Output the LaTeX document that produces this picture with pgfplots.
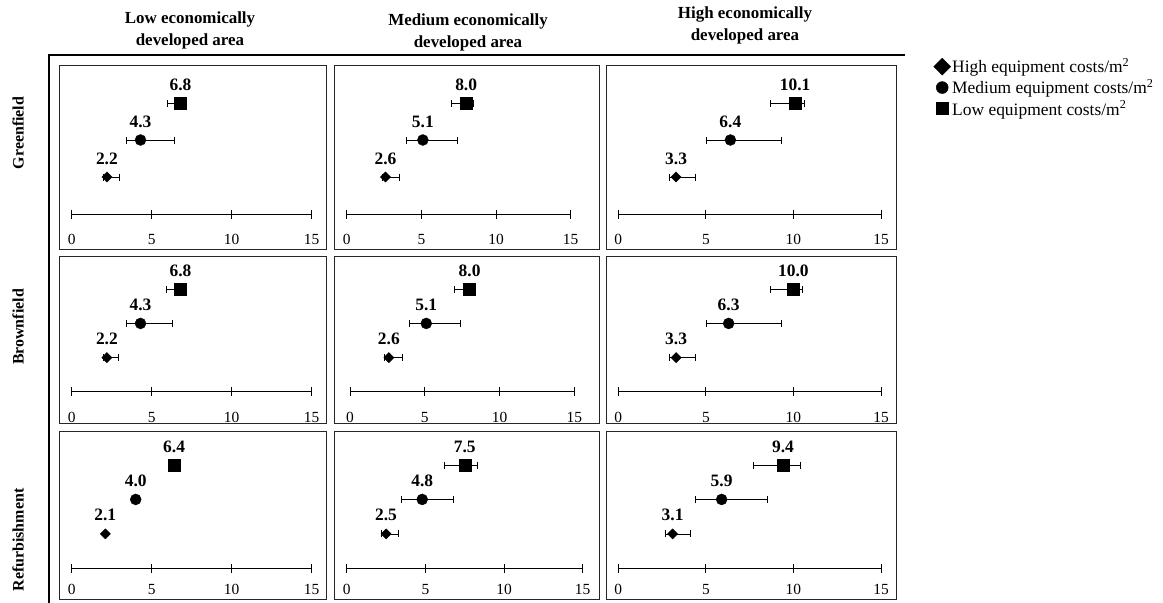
\documentclass[border=0pt]{standalone}
\usepackage{fontspec}
\setmainfont{Liberation Serif}
\usepackage{pgfplots}
\pgfplotsset{compat=1.18}

\newcommand{\fs}{\fontsize{15.5}{15.5}\selectfont}
\newcommand{\fl}{\fontsize{17.5}{17.5}\selectfont}
\newcommand{\fh}{\fontsize{16}{16}\selectfont}

\pgfplotsset{
  panel/.style={
    scale only axis, clip=false,
    anchor=origin,
    axis x line=bottom, axis y line=none,
    axis line style={-, black, line width=0.8bp},
    xmin=0, xmax=15, ymin=0, ymax=3,
    xtick={0,5,10,15}, xtick align=center,
    major tick length=9bp,
    every tick/.style={black, line width=0.8bp},
    /pgf/number format/assume math mode=true,
    xticklabel style={font=\fs, anchor=base, yshift=-26bp},
    ytick=\empty,
    error bars/x dir=both, error bars/x explicit,
    error bars/error mark=|,
    error bars/error bar style={line width=0.7bp, black},
    error bars/error mark options={mark size=3.5bp, line width=0.7bp, black},
    nodes near coords={\pgfmathprintnumber[fixed,fixed zerofill,precision=1]{\pgfplotspointmeta}},
    point meta=x,
    every node near coord/.style={font=\fl\bfseries, anchor=base, yshift=13bp, black},
  },
  dia/.style={only marks, mark=square*, mark size=3.6bp, black, mark options={fill=black, rotate=45}},
  cir/.style={only marks, mark=*, mark size=5.5bp, black, mark options={fill=black}},
  squ/.style={only marks, mark=square*, mark size=6bp, black, mark options={fill=black}},
}

% #1 x0, #2 y of axis line, #3 width, #4 height, #5 diamond, #6 circle, #7 square, #8 extra, #9 options
\newcommand{\panel}[9]{%
\begin{axis}[panel, at={(#1bp,-#2bp)}, width=#3bp, height=#4bp, #9]
\addplot[dia] coordinates {#5};
\addplot[cir] coordinates {#6};
\addplot[squ] coordinates {#7};
\draw[line width=0.8bp] (axis cs:0,0) ++(0,4.5bp) -- ++(0,-9bp);
\draw[line width=0.8bp] (axis cs:5,0) ++(0,4.5bp) -- ++(0,-9bp);
\draw[line width=0.8bp] (axis cs:10,0) ++(0,4.5bp) -- ++(0,-9bp);
\draw[line width=0.8bp] (axis cs:15,0) ++(0,4.5bp) -- ++(0,-9bp);
#8
\end{axis}}

\begin{document}
\begin{tikzpicture}
\useasboundingbox (0,0) rectangle (1163bp,-603bp);

% frames
\begin{scope}[line width=0.8bp, draw=black!85]
\draw (59.5bp,-65bp) rectangle (326bp,-249bp);
\draw (334.5bp,-65bp) rectangle (599.5bp,-249bp);
\draw (606.5bp,-65bp) rectangle (896bp,-249bp);
\draw (59.5bp,-256bp) rectangle (326bp,-423bp);
\draw (334.5bp,-256bp) rectangle (599.5bp,-423bp);
\draw (606.5bp,-256bp) rectangle (896bp,-423bp);
\draw (59.5bp,-431.5bp) rectangle (326bp,-599bp);
\draw (334.5bp,-431.5bp) rectangle (599.5bp,-599bp);
\draw (606.5bp,-431.5bp) rectangle (896bp,-599bp);
\end{scope}

% thick L line
\draw[line width=2.5bp] (49bp,-603bp) -- (49bp,-55bp) -- (905bp,-55bp);

% column headers
\node[font=\fontsize{17}{22}\selectfont\bfseries, align=center, inner sep=0pt] at (190bp,-30bp) {Low economically\\developed area};
\node[font=\fontsize{17}{22}\selectfont\bfseries, align=center, inner sep=0pt] at (468bp,-32bp) {Medium economically\\developed area};
\node[font=\fontsize{17}{22}\selectfont\bfseries, align=center, inner sep=0pt] at (745bp,-25bp) {High economically\\developed area};

% row labels
\node[font=\fh\bfseries, rotate=90, inner sep=0pt] at (18bp,-133bp) {Greenfield};
\node[font=\fh\bfseries, rotate=90, inner sep=0pt] at (18bp,-327bp) {Brownfield};
\node[font=\fh\bfseries, rotate=90, inner sep=0pt] at (18bp,-540bp) {Refurbishment};

% Row 1
\panel{71.7}{214}{240}{111}
  {(2.2,1) -= (0.2,0) += (0.8,0)}
  {(4.3,2) -= (0.9,0) += (2.1,0)}
  {(6.8,3) -= (0.8,0) += (0.3,0)}{}{}
\panel{346.7}{214}{224}{111}
  {(2.6,1) -= (0.2,0) += (0.9,0)}
  {(5.1,2) -= (1.1,0) += (2.3,0)}
  {(8.0,3) -= (1.0,0) += (0.5,0)}{}{}
\panel{618.3}{214}{262.7}{111}
  {(3.3,1) -= (0.4,0) += (1.1,0)}
  {(6.4,2) -= (1.4,0) += (2.9,0)}
  {(10.1,3) -= (1.4,0) += (0.5,0)}
  {\legend{High equipment costs/m\textsuperscript{2},Medium equipment costs/m\textsuperscript{2},Low equipment costs/m\textsuperscript{2}}}
  {legend style={at={(axis description cs:1.2,1.415)}, anchor=north west, draw=none, fill=none,
     font=\fl, row sep=2.2bp, inner sep=0pt, nodes={inner sep=1.5bp}},
   legend cell align=left,
   legend image code/.code={\draw[#1] plot coordinates {(0bp,0bp)};},
   legend image post style={mark size=6bp}}

% Row 2
\panel{71.7}{391.7}{240}{102.4}
  {(2.2,1) -= (0.2,0) += (0.7,0)}
  {(4.3,2) -= (0.9,0) += (2.0,0)}
  {(6.8,3) -= (0.9,0) += (0.3,0)}{}{}
\panel{350}{391.7}{224.3}{102.4}
  {(2.6,1) -= (0.3,0) += (0.9,0)}
  {(5.1,2) -= (1.1,0) += (2.3,0)}
  {(8.0,3) -= (1.0,0) += (0.4,0)}{}{}
\panel{618.3}{391.7}{262.7}{102.4}
  {(3.3,1) -= (0.4,0) += (1.1,0)}
  {(6.3,2) -= (1.3,0) += (3.0,0)}
  {(10.0,3) -= (1.3,0) += (0.5,0)}{}{}

% Row 3
\panel{71.7}{568.3}{240}{103.3}
  {(2.1,1)}
  {(4.0,2)}
  {(6.4,3)}{}{xticklabel style={yshift=4bp}}
\panel{346.7}{568.3}{236}{103.3}
  {(2.5,1) -= (0.3,0) += (0.8,0)}
  {(4.8,2) -= (1.3,0) += (2.0,0)}
  {(7.5,3) -= (1.3,0) += (0.8,0)}{}{xticklabel style={yshift=4bp}}
\panel{618.3}{568.3}{262.7}{103.3}
  {(3.1,1) -= (0.4,0) += (1.0,0)}
  {(5.9,2) -= (1.5,0) += (2.6,0)}
  {(9.4,3) -= (1.7,0) += (1.0,0)}{}{xticklabel style={yshift=4bp}}
\end{tikzpicture}
\end{document}
